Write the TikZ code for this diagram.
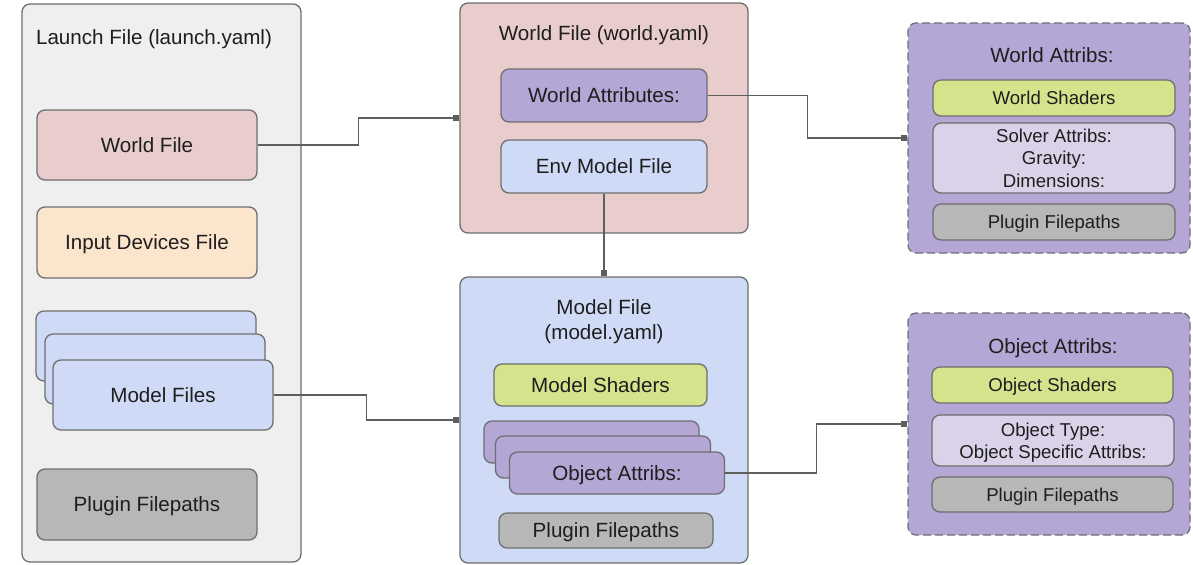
\documentclass[tikz,border=0pt]{standalone}
\usepackage{fontspec}
\setmainfont{Liberation Sans}
\usetikzlibrary{positioning}
\usetikzlibrary{calc}
\usetikzlibrary{arrows.meta}
\definecolor{launchgray}{HTML}{EFEFEF}
\definecolor{worldpink}{HTML}{E9CCCC}
\definecolor{inputpeach}{HTML}{FCE5CD}
\definecolor{modelblue}{HTML}{CFDBF6}
\definecolor{attribpurple}{HTML}{B4A7D6}
\definecolor{solverlav}{HTML}{D9D2E9}
\definecolor{shadergreen}{HTML}{D6E38D}
\definecolor{plugingray}{HTML}{B7B7B7}
\definecolor{edgegray}{HTML}{6E6E6E}
\definecolor{linegray}{HTML}{5E5E5E}
\definecolor{textblack}{HTML}{1E1E1E}
\tikzset{
    box/.style={
        draw=edgegray,
        line width=0.65pt,
        rounded corners=4pt,
        inner sep=0pt,
        text=textblack,
        text depth=0pt,
        align=center,
        font=\fontsize{10.3}{12.5}\selectfont},
    smallbox/.style={
        box,
        font=\fontsize{9.3}{11.2}\selectfont},
    attribs/.style={
        box,
        fill=attribpurple,
        dash pattern=on 4pt off 2pt},
    title/.style={
        text=textblack,
        text depth=0pt,
        align=center,
        font=\fontsize{10.3}{12.5}\selectfont},
    wd/.style={minimum width=#1*0.5pt},
    ht/.style={minimum height=#1*0.5pt},
    elbow/.style={
        to path={-| ($(\tikztostart)!0.5!(\tikztotarget)$) |- (\tikztotarget)}},
    link/.style={
        draw=linegray,
        line width=0.65pt,
        -{Square[length=3pt,width=3.2pt]}}}

\begin{document}
\begin{tikzpicture}[x=0.5pt,y=-0.5pt]
        \useasboundingbox (0,0) rectangle (1193,564);

        % containers
        \node[box,fill=launchgray,wd=279,ht=558] (launch) at (161.5,283) {};
        \node[title] (launchtitle) at (154,37) {Launch File (launch.yaml)};
        \node[box,fill=worldpink,wd=288,ht=230] (world) at (604,118) {};
        \node[title] (worldtitle) at (604,33) {World File (world.yaml)};
        \node[box,fill=modelblue,wd=288,ht=286] (model) at (604,420) {};
        \node[title] (modeltitle) at (604,320) {Model File\\(model.yaml)};
        \node[attribs,wd=282,ht=230] (wattribs) at (1049,138) {};
        \node[title] (wattribstitle) at (1052,55) {World Attribs:};
        \node[attribs,wd=282,ht=222] (oattribs) at (1049,424) {};
        \node[title] (oattribstitle) at (1053,346) {Object Attribs:};

        % launch file
        \node[box,fill=worldpink,wd=220,ht=70] (worldfile) at (147,145) {World File};
        \node[box,fill=inputpeach,wd=220,ht=71] (inputdev) at (147,242.5) {Input Devices File};
        \node[box,fill=modelblue,wd=220,ht=70] (models1) at (146,346) {};
        \node[box,fill=modelblue,wd=220,ht=70] (models2) at (155,369) {};
        \node[box,fill=modelblue,wd=220,ht=70] (models3) at (163,395) {Model Files};
        \node[box,fill=plugingray,wd=220,ht=71] (lplugin) at (147,504.5) {Plugin Filepaths};

        % world file
        \node[box,fill=attribpurple,wd=206,ht=53] (worldattr) at (604,95.5) {World Attributes:};
        \node[box,fill=modelblue,wd=206,ht=53] (envmodel) at (604,166.5) {Env Model File};

        % model file
        \node[box,fill=shadergreen,wd=213,ht=42] (mshaders) at (600.5,385) {Model Shaders};
        \node[box,fill=attribpurple,wd=215,ht=42] (objattr1) at (591.5,442) {};
        \node[box,fill=attribpurple,wd=215,ht=42] (objattr2) at (603,457) {};
        \node[box,fill=attribpurple,wd=215,ht=42] (objattr3) at (617,473) {Object Attribs:};
        \node[box,fill=plugingray,wd=214,ht=35] (mplugin) at (606,530.5) {Plugin Filepaths};

        % world attribs
        \node[smallbox,fill=shadergreen,wd=242,ht=36] (wshaders) at (1054,98) {World Shaders};
        \node[smallbox,fill=solverlav,wd=242,ht=70] (solver) at (1054,158) {Solver Attribs:\\Gravity:\\Dimensions:};
        \node[smallbox,fill=plugingray,wd=242,ht=36] (wplugin) at (1054,222) {Plugin Filepaths};

        % object attribs
        \node[smallbox,fill=shadergreen,wd=241,ht=36] (oshaders) at (1052.5,385) {Object Shaders};
        \node[smallbox,fill=solverlav,wd=242,ht=51] (otype) at (1053,440.5) {Object Type:\\Object Specific Attribs:};
        \node[smallbox,fill=plugingray,wd=241,ht=35] (oplugin) at (1052.5,494.5) {Plugin Filepaths};

        % connectors
        \draw[link] (worldfile.east) to[elbow] (world.west);
        \draw[link] (worldattr.east) to[elbow] (wattribs.west);
        \draw[link] (envmodel.south) -- (model.north);
        \draw[link] (models3.east) to[elbow] (model.west);
        \draw[link] (objattr3.east) to[elbow] (oattribs.west);
    \end{tikzpicture}
\end{document}
